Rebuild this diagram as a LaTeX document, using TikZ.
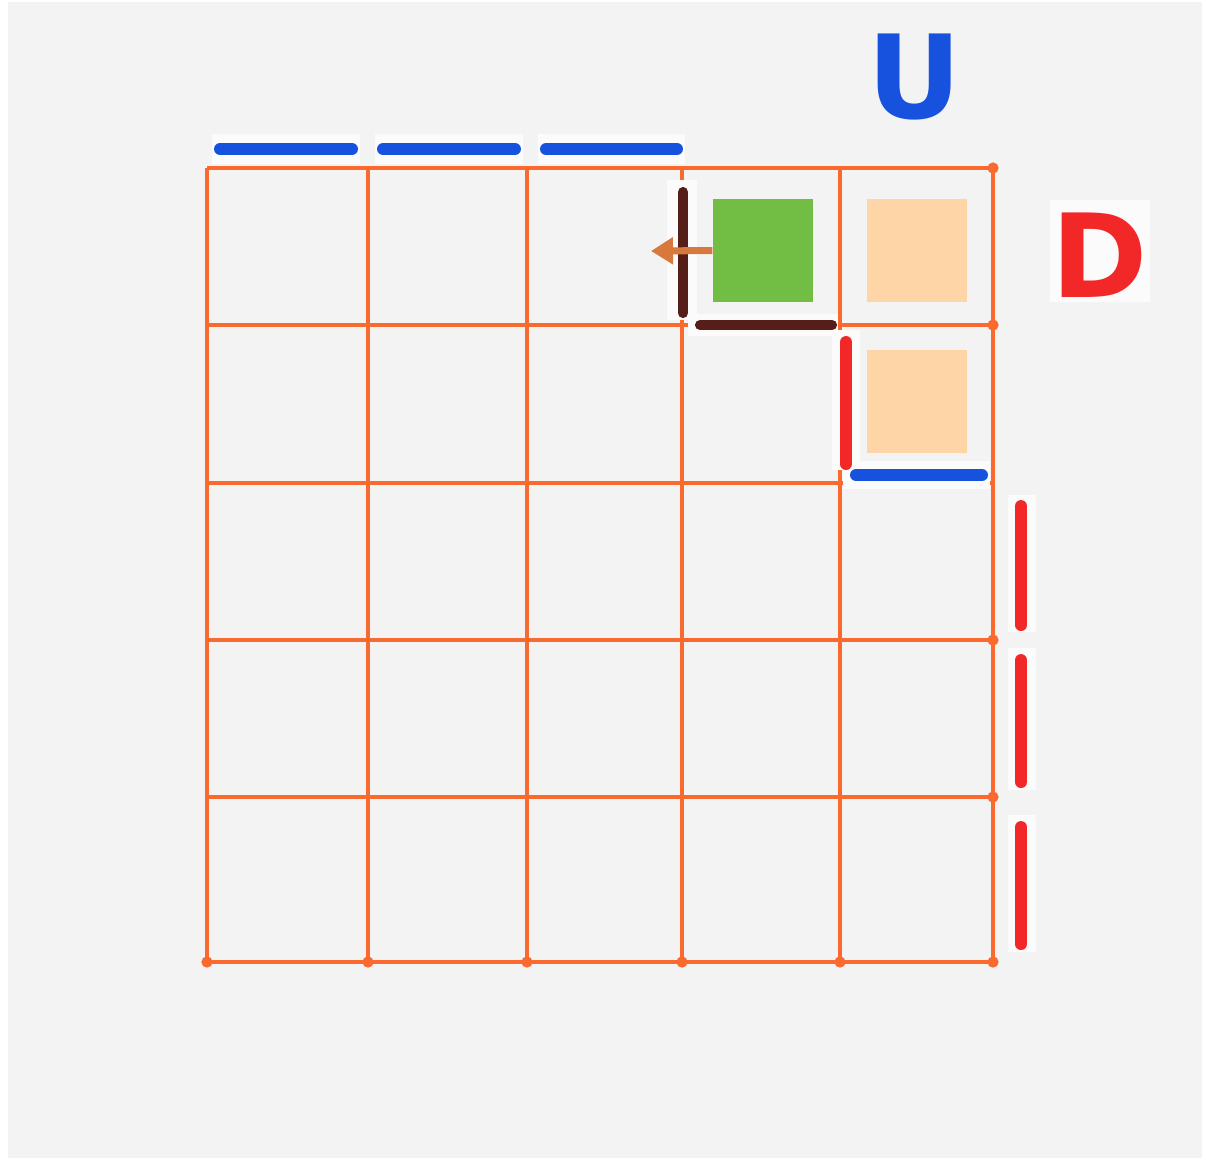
\documentclass[tikz,border=0pt]{standalone}
\usepackage{fontspec}
\usetikzlibrary{arrows.meta}
\newfontfamily\marcador{DejaVu Sans}
\definecolor{fundo}{RGB}{243,243,243}
\definecolor{papel}{RGB}{251,251,251}
\definecolor{grade}{RGB}{250,105,45}
\definecolor{azul}{RGB}{22,82,222}
\definecolor{vermelho}{RGB}{242,40,40}
\definecolor{marrom}{RGB}{85,30,25}
\definecolor{verde}{RGB}{114,190,68}
\definecolor{pessego}{RGB}{253,213,166}
\definecolor{seta}{RGB}{215,120,60}
\tikzset{
  linha/.style={grade, line width=1.3pt},
  traco/.style={line width=3.4pt, line cap=round},
  remendo/.style={fill=papel, draw=none},
  quadrado/.style={minimum width=1cm, minimum height=1.03cm, inner sep=0pt},
  letra/.style={font=\marcador\bfseries\fontsize{33}{33}\selectfont, anchor=base},
}
\begin{document}
\begin{tikzpicture}[x=0.01cm, y=-0.01cm]
  \fill[white] (0,0) rectangle (1207,1162);
  \fill[fundo] (8,2) rectangle (1202,1158);
  % Grade 5x5
  \foreach \x in {207,368,527,682,840,993}
    \draw[linha] (\x,168) -- (\x,962);
  \foreach \y in {168,325,483,640,797,962}
    \draw[linha] (207,\y) -- (993,\y);
  \foreach \x in {207,368,527,682,840,993}
    \fill[grade] (\x,962) circle (1.6pt);
  \foreach \y in {168,325,640,797}
    \fill[grade] (993,\y) circle (1.6pt);
  % Remendos brancos
  \foreach \a/\b in {212/360,375/523,538/685}
    \fill[remendo] (\a,134) rectangle (\b,164);
  \fill[remendo] (667,180) rectangle (697,320);
  \fill[remendo] (688,314) rectangle (838,336);
  \fill[remendo] (832,330) rectangle (860,470);
  \fill[remendo] (843,461) rectangle (990,489);
  \foreach \a/\b in {495/632,648/790,815/952}
    \fill[remendo] (1008,\a) rectangle (1036,\b);
  \fill[remendo] (1050,200) rectangle (1150,302);
  % Tracos
  \foreach \a/\b in {220/352,383/515,546/677}
    \draw[traco, azul] (\a,149) -- (\b,149);
  \draw[traco, marrom, line width=2.9pt] (683,192) -- (683,313);
  \draw[traco, marrom, line width=2.9pt] (700,325) -- (832,325);
  \draw[traco, vermelho] (846,342) -- (846,464);
  \draw[traco, azul] (856,475) -- (982,475);
  \foreach \a/\b in {506/625,660/782,827/944}
    \draw[traco, vermelho] (1021,\a) -- (1021,\b);
  % Quadrados
  \node[quadrado, fill=verde] (verde) at (763,250.5) {};
  \node[quadrado, fill=pessego] (pessegoA) at (917,250.5) {};
  \node[quadrado, fill=pessego] (pessegoB) at (917,401.5) {};
  \coordinate (alvo) at (651,251);
  \draw[seta, line width=2pt, -{Triangle[length=0.22cm, width=0.26cm]}] (verde.west) -- (alvo);
  % Letras
  \node[letra, azul] (letraU) at (915,118) {U};
  \node[letra, vermelho] (letraD) at (1100,297) {D};
\end{tikzpicture}
\end{document}
